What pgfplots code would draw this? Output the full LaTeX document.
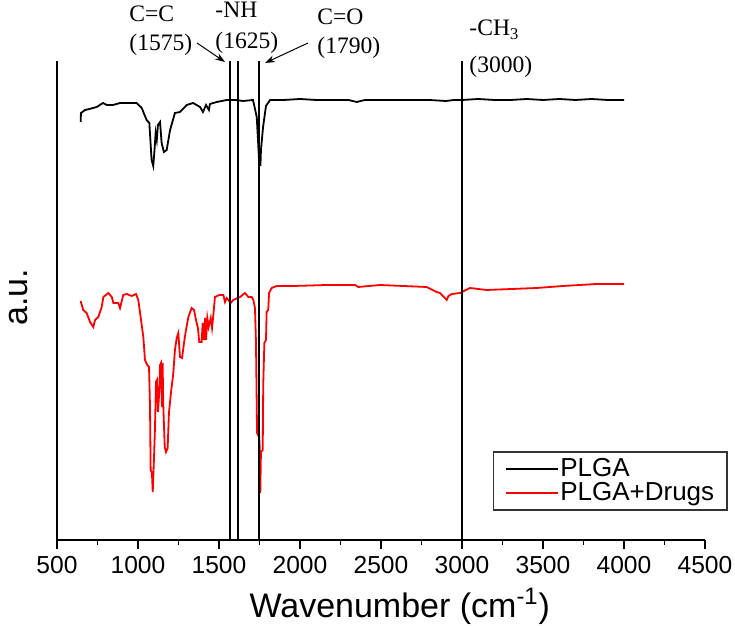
\documentclass[border=0pt]{standalone}
\usepackage{pgfplots}
\pgfplotsset{compat=1.18}
\usetikzlibrary{arrows.meta}
\usepackage{fontspec}
\setmainfont{Liberation Sans}
\newfontfamily\timesfont{Liberation Serif}
\begin{document}
\begin{tikzpicture}
\begin{axis}[
  at={(28.5pt,43pt)}, anchor=south west,
  scale only axis, width=324pt, height=239.5pt,
  xmin=500, xmax=4500, ymin=0, ymax=479,
  axis x line*=bottom, axis y line*=left,
  axis line style={line width=0.8pt, -},
  xtick={500,1000,...,4500}, minor x tick num=1,
  ytick=\empty,
  tick align=outside,
  major tick length=4.5pt, minor tick length=2.5pt,
  every tick/.style={black, line width=0.8pt},
  /pgf/number format/assume math mode=true,
  /pgf/number format/1000 sep={},
  x tick label style={font=\fontsize{12.3}{14}\selectfont},
  xlabel={Wavenumber (cm\textsuperscript{-1})},
  ylabel={a.u.},
  xlabel style={font=\fontsize{17}{20}\selectfont, at={(axis description cs:0.529,-0.1608)}, anchor=base},
  ylabel style={font=\fontsize{17}{20}\selectfont, inner sep=0pt, at={(axis description cs:-0.059,0.507)}, anchor=center},
  clip=false,
  legend cell align=left,
  legend image code/.code={\draw[#1] (0pt,0pt) -- (26pt,0pt);},
  legend style={at={(axis description cs:1.0355,0.0605)}, anchor=south east,
    draw=black!80, line width=0.8pt, font=\fontsize{13}{15}\selectfont,
    inner xsep=6pt, inner ysep=2.5pt,
    nodes={inner xsep=0.5pt, inner ysep=0pt, text height=9.5pt, text depth=2.5pt},
    /tikz/column 2/.style={column sep=5pt}},
]
% PLGA
\addplot[black, line width=0.9pt] coordinates {
(646,418) (648,427) (673,430) (700,431) (745,433) (784,437) (807,435) (846,435) (889,437) (950,437) (992,437) (1023,432) (1053,420) (1070,417) (1084,380) (1094,374) (1102,390) (1109,407) (1116,400) (1123,415) (1136,418) (1146,397) (1160,388) (1177,390) (1198,410) (1228,427) (1259,428) (1301,435) (1340,437) (1383,433) (1401,428) (1420,435) (1438,430) (1444,436) (1486,438) (1548,440) (1600,440) (1650,439) (1710,440) (1733,423) (1743,393) (1747,380) (1751,375) (1756,375) (1759,390) (1772,413) (1790,434) (1815,440) (1900,440) (2000,441) (2100,440) (2200,440) (2300,440) (2350,438) (2400,440) (2500,440) (2600,440) (2700,440) (2800,440) (2900,439) (2950,440) (3000,440) (3100,441) (3200,440) (3300,440) (3400,441) (3500,440) (3600,441) (3700,440) (3800,441) (3900,440) (4000,440)
};
\addlegendentry{PLGA}
% PLGA+Drugs
\addplot[red, line width=0.9pt] coordinates {
(646,239) (662,230) (683,227) (704,218) (724,213) (735,220) (755,223) (776,233) (786,243) (817,247) (838,243) (848,237) (878,237) (889,232) (909,245) (930,246) (961,244) (988,246) (1002,240) (1012,228) (1023,215) (1033,203) (1043,180) (1057,175) (1068,173) (1074,135) (1078,70) (1086,67) (1091,48) (1099,83) (1105,113) (1111,158) (1117,160) (1123,128) (1131,147) (1136,175) (1142,177) (1148,133) (1152,177) (1156,135) (1165,93) (1173,88) (1183,92) (1191,127) (1204,148) (1218,167) (1228,190) (1239,202) (1249,207) (1259,183) (1272,182) (1284,197) (1296,210) (1311,223) (1331,232) (1346,230) (1358,220) (1370,212) (1378,198) (1393,198) (1399,217) (1407,200) (1414,222) (1420,200) (1428,222) (1436,213) (1449,222) (1457,212) (1465,225) (1475,243) (1502,245) (1527,245) (1537,238) (1548,242) (1572,237) (1588,240) (1630,243) (1660,247) (1681,243) (1702,243) (1712,240) (1722,232) (1728,200) (1735,107) (1741,105) (1747,107) (1751,93) (1755,47) (1759,88) (1770,90) (1773,155) (1780,197) (1790,200) (1794,228) (1804,230) (1809,247) (1825,252) (1856,254) (1959,254) (2165,255) (2340,255) (2360,253) (2494,255) (2782,253) (2844,248) (2864,247) (2906,240) (2916,244) (2938,246) (2988,247) (3049,252) (3152,250) (3461,252) (3623,254) (3831,256) (4000,256)
};
\addlegendentry{PLGA+Drugs}
% marker lines
\addplot[black, line width=0.9pt, forget plot] coordinates {(1568,0) (1568,479)};
\addplot[black, line width=0.9pt, forget plot] coordinates {(1619,0) (1619,479)};
\addplot[black, line width=0.9pt, forget plot] coordinates {(1749,0) (1749,479)};
\addplot[black, line width=0.9pt, forget plot] coordinates {(3000,0) (3000,479)};
\end{axis}
\begin{scope}[x=0.5pt, y=-0.5pt, shift={(0pt,313pt)}, every node/.style={anchor=base west, inner sep=0pt, font=\timesfont\fontsize{11.8}{14}\selectfont}]
\node at (129,22) {C=C};
\node at (129,51) {(1575)};
\node at (215,18) {-NH};
\node at (215,49) {(1625)};
\node at (317,25) {C=O};
\node at (317,54) {(1790)};
\node at (469,36) {-CH\textsubscript{3}};
\node at (469,73) {(3000)};
\draw[-{Stealth[length=5pt,width=3.5pt]}, line width=0.5pt] (197,43) -- (225,62);
\draw[-{Stealth[length=5pt,width=3.5pt]}, line width=0.5pt] (308,43) -- (265,63);
\end{scope}
\pgfresetboundingbox
\path[use as bounding box] (0,0) rectangle (367.5pt,313pt);
\end{tikzpicture}
\end{document}
